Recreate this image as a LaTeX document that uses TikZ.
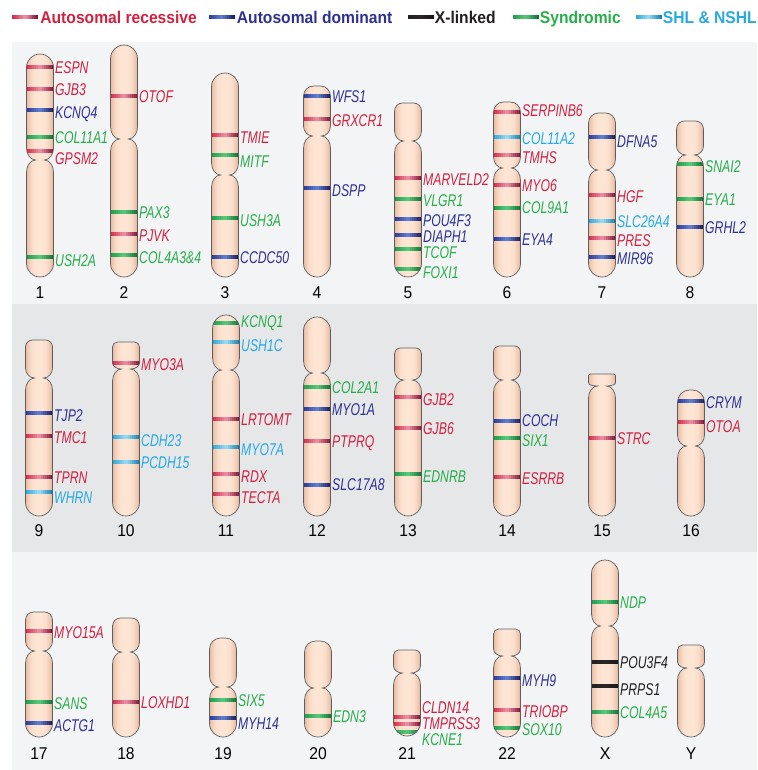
\documentclass[tikz,border=0pt]{standalone}
\usepackage{fontspec}
\usepackage{tikz}
\usetikzlibrary{positioning}
\newfontfamily\genefont[FakeStretch=0.72]{Liberation Sans}
\newfontfamily\numfont[FakeStretch=0.92]{Liberation Sans}
\newfontfamily\legfont[FakeStretch=0.92]{Liberation Sans}
\definecolor{ar}{HTML}{D2213F}
\definecolor{arL}{HTML}{D42C4C}
\definecolor{arM}{HTML}{EA8AA0}
\definecolor{arR}{HTML}{85173A}
\definecolor{ad}{HTML}{2E3192}
\definecolor{adL}{HTML}{2B3B98}
\definecolor{adM}{HTML}{5F7BCC}
\definecolor{adR}{HTML}{1A1F60}
\definecolor{xl}{HTML}{231F20}
\definecolor{xlL}{HTML}{231F20}
\definecolor{xlM}{HTML}{2A2627}
\definecolor{xlR}{HTML}{1A1718}
\definecolor{sy}{HTML}{27AE4A}
\definecolor{syL}{HTML}{1E9C4B}
\definecolor{syM}{HTML}{55C679}
\definecolor{syR}{HTML}{127536}
\definecolor{sn}{HTML}{27AAE1}
\definecolor{snL}{HTML}{2BA7D9}
\definecolor{snM}{HTML}{93D8F0}
\definecolor{snR}{HTML}{1882B0}
\definecolor{chrE}{HTML}{E2AE90}
\definecolor{chrM}{HTML}{FDE5D4}
\definecolor{chrO}{HTML}{5E5F61}
\definecolor{panelA}{HTML}{F3F4F6}
\definecolor{panelB}{HTML}{E6E7E9}
\tikzset{
  swatch/.style={minimum width=26pt, minimum height=4pt, inner sep=0pt},
  chrline/.style={draw=chrO, line width=0.7pt},
  gene/.style={text=#1, font=\genefont\itshape\fontsize{17}{18}\selectfont, anchor=west, inner sep=0pt, text height=12.2pt, text depth=0pt},
  chrnum/.style={font=\numfont\fontsize{17}{18}\selectfont, inner sep=0pt, text height=12pt, text depth=0pt},
  legtxt/.style={text=#1, font=\legfont\bfseries\fontsize{17}{18}\selectfont, anchor=west, inner sep=0pt, text height=12.3pt, text depth=0pt}
}
\def\chrpath#1#2#3#4#5#6{(#1-13.5,#2+#5) .. controls (#1-13.5,#2+0.448*#5) and (#1-13.5+0.448*#5,#2) .. (#1-13.5+#5,#2)
  -- (#1+13.5-#5,#2) .. controls (#1+13.5-0.448*#5,#2) and (#1+13.5,#2+0.448*#5) .. (#1+13.5,#2+#5)
  -- (#1+13.5,#3-#6) .. controls (#1+13.5,#3-0.448*#6) and (#1+9.3,#3) .. (#1+4.5,#3)
  .. controls (#1+9.3,#3) and (#1+13.5,#3+5.4) .. (#1+13.5,#3+12)
  -- (#1+13.5,#4-13.5) .. controls (#1+13.5,#4-6) and (#1+7.5,#4) .. (#1,#4)
  .. controls (#1-7.5,#4) and (#1-13.5,#4-6) .. (#1-13.5,#4-13.5)
  -- (#1-13.5,#3+12) .. controls (#1-13.5,#3+5.4) and (#1-9.3,#3) .. (#1-4.5,#3)
  .. controls (#1-9.3,#3) and (#1-13.5,#3-0.448*#6) .. (#1-13.5,#3-#6) -- cycle}
\def\chrfill#1#2#3{%
  \foreach \s in {0,...,26} {
    \pgfmathtruncatemacro\pp{100*(1-(abs(\s-12.5)/14)^3)}
    \fill[fill=chrM!\pp!chrE] (#1-13.5+\s,#2) rectangle ++(1.3,#3-#2);
  }}
\def\bandfill#1#2#3#4{%
  \foreach \k in {0,...,6} {
    \pgfmathtruncatemacro\pp{\k*100/6}
    \fill[fill=#4M!\pp!#4L] (#1-#3+\k*#3/7,#2-2.3) rectangle ++(#3/7+0.3,4.6);
    \fill[fill=#4R!\pp!#4M] (#1+\k*#3/7,#2-2.3) rectangle ++(#3/7+0.3,4.6);
  }}
\def\chrom#1#2#3#4#5#6#7#8{%
  \begin{scope}
    \clip \chrpath{#1}{#2}{#3}{#4}{#5}{#6};
    \chrfill{#1}{#2}{#4}
    \foreach \by/\ly/\col/\gn in {#8} {\bandfill{#1}{\by}{14}{\col}}
  \end{scope}
  \draw[chrline] \chrpath{#1}{#2}{#3}{#4}{#5}{#6};
  \foreach \by/\ly/\col/\gn [count=\i] in {#8}
    \node[gene=\col] (g#7-\i) at (#1+15,\ly) {\gn};
  \node[chrnum] (n#7) at (#1,\numy) {#7};
}

\begin{document}
\begin{tikzpicture}[x=1pt, y=-1pt]
  \useasboundingbox (0,0) rectangle (757,770);
  \fill[panelA] (12,42) rectangle (757,304);
  \fill[panelB] (12,304) rectangle (757,552);
  \fill[panelA] (12,552) rectangle (757,770);

  \bandfill{25}{17}{13}{ar}
  \node[swatch] (sar) at (25,17) {};
  \node[legtxt=ar, right=2pt of sar] (lar) {Autosomal recessive};
  \bandfill{221.5}{17}{13}{ad}
  \node[swatch] (sad) at (221.5,17) {};
  \node[legtxt=ad, right=2pt of sad] (lad) {Autosomal dominant};
  \bandfill{420.5}{17}{13}{xl}
  \node[swatch] (sxl) at (420.5,17) {};
  \node[legtxt=xl, right=1pt of sxl] (lxl) {X-linked};
  \bandfill{525.5}{17}{13}{sy}
  \node[swatch] (ssy) at (525.5,17) {};
  \node[legtxt=sy, right=1pt of ssy] (lsy) {Syndromic};
  \bandfill{648.5}{17}{13}{sn}
  \node[swatch] (ssn) at (648.5,17) {};
  \node[legtxt=sn, right=1pt of ssn] (lsn) {SHL \& NSHL};

  \def\numy{292}
  \chrom{40}{54}{160}{277}{13.5}{12}{1}{67/67/ar/ESPN,89/89/ar/GJB3,110/112/ad/KCNQ4,137/137/sy/COL11A1,151/158/ar/GPSM2,257/260/sy/USH2A}
  \chrom{124}{45}{139}{277}{13.5}{12}{2}{96/96/ar/OTOF,212/212/sy/PAX3,234/235/ar/PJVK,255/257/sy/COL4A3\&4}
  \chrom{225}{73}{175}{277}{13.5}{12}{3}{135/137/ar/TMIE,155/161/sy/MITF,218/220/sy/USH3A,257/257/ad/CCDC50}
  \chrom{317}{86}{136}{277}{10}{10}{4}{96/96/ad/WFS1,119/120/ar/GRXCR1,188/190/ad/DSPP}
  \chrom{408}{103}{141}{277}{8}{10}{5}{178/179/ar/MARVELD2,199/200/sy/VLGR1,219/220/ad/POU4F3,235/236/ad/DIAPH1,249/252/sy/TCOF,269/272/sy/FOXI1}
  \chrom{507}{102}{168}{277}{10}{11}{6}{112/110/ar/SERPINB6,137/138/sn/COL11A2,155/157/ar/TMHS,185/185/ar/MYO6,208/207/sy/COL9A1,239/239/ad/EYA4}
  \chrom{602}{113}{170}{277}{10}{11}{7}{137/141/ad/DFNA5,195/196/ar/HGF,221/221/sn/SLC26A4,238/240/ar/PRES,257/258/ad/MIR96}
  \chrom{690}{121}{155}{277}{8}{9}{8}{164/166/sy/SNAI2,199/199/sy/EYA1,227/227/ad/GRHL2}

  \def\numy{530}
  \chrom{39}{340}{378}{516}{7}{10}{9}{413/415/ad/TJP2,436/437/ar/TMC1,477/477/ar/TPRN,492/497/sn/WHRN}
  \chrom{126}{342}{369}{516}{5}{6}{10}{363/364/ar/MYO3A,437/440/sn/CDH23,462/462/sn/PCDH15}
  \chrom{226}{315}{370}{516}{13.5}{12}{11}{323/321/sy/KCNQ1,342/345/sn/USH1C,419/419/ar/LRTOMT,447/449/sn/MYO7A,474/476/ar/RDX,494/497/ar/TECTA}
  \chrom{317}{317}{373}{516}{13.5}{12}{12}{387/387/sy/COL2A1,409/409/ad/MYO1A,441/441/ar/PTPRQ,485/484/ad/SLC17A8}
  \chrom{408}{348}{380}{516}{6}{9}{13}{397/399/ar/GJB2,428/428/ar/GJB6,474/476/sy/EDNRB}
  \chrom{507}{346}{380}{516}{6}{9}{14}{421/420/ad/COCH,438/440/sy/SIX1,477/478/ar/ESRRB}
  \chrom{602}{374}{386}{516}{2}{3}{15}{438/438/ar/STRC}
  \chrom{691}{390}{446}{516}{12}{11}{16}{401/402/ad/CRYM,422/426/ar/OTOA}

  \def\numy{753}
  \chrom{39}{612}{651}{737}{8}{10}{17}{631/632/ar/MYO15A,702/703/sy/SANS,723/725/ad/ACTG1}
  \chrom{126}{618}{652}{737}{8}{10}{18}{702/702/ar/LOXHD1}
  \chrom{223}{638}{687}{737}{11}{11}{19}{700/700/sy/SIX5,718/723/ad/MYH14}
  \chrom{318}{641}{688}{737}{11}{11}{20}{716/716/sy/EDN3}
  \chrom{407}{650}{673}{736}{5}{7}{21}{717/707/ar/CLDN14,724/723/ar/TMPRSS3,732/739/sy/KCNE1}
  \chrom{507}{629}{656}{737}{5}{7}{22}{678/680/ad/MYH9,710/711/ar/TRIOBP,728/729/sy/SOX10}
  \chrom{605}{560}{626}{737}{13.5}{12}{X}{602/602/sy/NDP,662/662/xl/POU3F4,686/689/xl/PRPS1,712/712/sy/COL4A5}
  \begin{scope}
    \clip \chrpath{691}{645}{668}{737}{5}{6};
    \chrfill{691}{645}{737}
  \end{scope}
  \draw[chrline] \chrpath{691}{645}{668}{737}{5}{6};
  \node[chrnum] (nY) at (691,\numy) {Y};
\end{tikzpicture}
\end{document}
